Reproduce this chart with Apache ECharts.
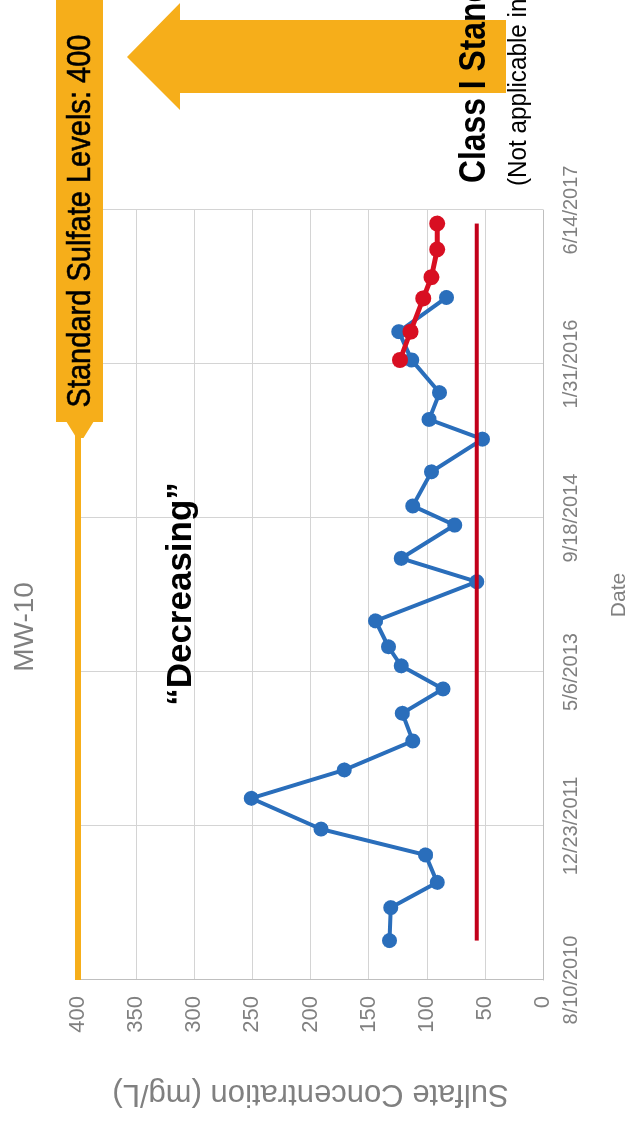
<!DOCTYPE html>
<html>
<head>
<meta charset="utf-8">
<script src="https://cdn.jsdelivr.net/npm/echarts@6/dist/echarts.min.js"></script>
<style>
html,body{margin:0;padding:0;width:641px;height:1123px;overflow:hidden;background:#ffffff;}
#chart{position:absolute;left:0;top:0;width:1123px;height:641px;transform-origin:0 0;transform:translate(0px,1123px) rotate(-90deg);background:#ffffff;}
</style>
</head>
<body>
<div id="chart"></div>
<script>
// ---- data ----
const chartTitle = 'MW-10';
const dateMin = '2010-08-10';
const dateMax = '2017-06-14';
const dateStepDays = 500;
const valueMin = 0;
const valueMax = 400;
const valueStep = 50;

const blueDates = ['2010-12-16','2011-04-02','2011-06-23','2011-09-20','2011-12-13','2012-03-22',
  '2012-06-22','2012-09-24','2012-12-23','2013-03-12','2013-05-26','2013-07-27','2013-10-19',
  '2014-02-23','2014-05-10','2014-08-26','2014-10-27','2015-02-15','2015-06-01','2015-08-04',
  '2015-10-30','2016-02-13','2016-05-15','2016-09-03'];
const blueValues = [132,131,91,101,191,251,171,112,121,86,122,133,144,57,122,76,112,96,52,98,89,113,124,83];

const redDates = ['2016-02-13','2016-05-15','2016-08-31','2016-11-08','2017-02-06','2017-05-01'];
const redValues = [123,114,103,96,91,91];

const baselineDates = ['2010-12-16','2017-05-01'];
const baselineValues = [57,57];

const standardLevel = 400;
const standardLabel = 'Standard Sulfate Levels: 400';
const classLabel = 'Class I Standard';
const classNote = '(Not applicable in';
const trendLabel = '\u201CDecreasing\u201D';
const xAxisName = 'Date';
const yAxisName = 'Sulfate Concentration (mg/L)';

// ---- helpers ----
const DAY = 86400000;
const base = Date.parse(dateMin);
const toDays = s => (Date.parse(s) - base) / DAY;
const fmtDate = v => {
  const d = new Date(base + v * DAY);
  return (d.getUTCMonth() + 1) + '/' + d.getUTCDate() + '/' + d.getUTCFullYear();
};
const pairs = (ds, vs) => ds.map((d, i) => [toDays(d), vs[i]]);

const ORANGE = '#F6AE1A';
const BLUE = '#2A6EBB';
const RED = '#D80F22';
const RED_LINE = '#C2001A';
const GRAY = '#808080';
const FONT = '"Liberation Sans", Arial, sans-serif';

const chart = echarts.init(document.getElementById('chart'), null, {renderer: 'canvas'});

chart.setOption({
  animation: false,
  backgroundColor: '#ffffff',
  grid: {left: 143, right: 210, top: 78, bottom: 98, containLabel: false, outerBoundsMode: 'none'},
  xAxis: {
    type: 'value',
    min: 0,
    max: toDays(dateMax),
    interval: dateStepDays,
    name: xAxisName,
    nameLocation: 'middle',
    nameGap: 66,
    nameTextStyle: {fontSize: 21, color: GRAY, fontFamily: FONT},
    axisLine: {show: true, onZero: false, lineStyle: {color: '#BFBFBF', width: 1}},
    axisTick: {show: false},
    axisLabel: {formatter: fmtDate, fontSize: 20, color: GRAY, fontFamily: FONT, margin: 18,
                showMinLabel: true, showMaxLabel: true, hideOverlap: false},
    splitLine: {show: true, lineStyle: {color: '#D4D4D4', width: 1}}
  },
  yAxis: {
    type: 'value',
    min: valueMin,
    max: valueMax,
    interval: valueStep,
    name: yAxisName,
    nameLocation: 'middle',
    nameGap: 98,
    nameTextStyle: {fontSize: 31, color: GRAY, fontFamily: FONT},
    axisLine: {show: true, lineStyle: {color: '#BFBFBF', width: 1}},
    axisTick: {show: false},
    axisLabel: {fontSize: 22, color: GRAY, fontFamily: FONT, margin: 16},
    splitLine: {show: true, lineStyle: {color: '#D4D4D4', width: 1}}
  },
  series: [
    {
      name: 'MW-10',
      type: 'line',
      data: pairs(blueDates, blueValues),
      symbol: 'circle',
      symbolSize: 15,
      lineStyle: {color: BLUE, width: 4},
      itemStyle: {color: BLUE},
      z: 2,
      markLine: {
        silent: true,
        symbol: ['none', 'none'],
        label: {show: false},
        lineStyle: {color: ORANGE, width: 6, type: 'solid'},
        data: [{yAxis: standardLevel}]
      }
    },
    {
      name: 'baseline',
      type: 'line',
      data: pairs(baselineDates, baselineValues),
      symbol: 'none',
      lineStyle: {color: RED_LINE, width: 4},
      z: 3
    },
    {
      name: 'recent',
      type: 'line',
      data: pairs(redDates, redValues),
      symbol: 'circle',
      symbolSize: 16,
      lineStyle: {color: RED, width: 5},
      itemStyle: {color: RED},
      z: 4
    }
  ],
  graphic: [
    {type: 'polygon', z: 100, shape: {points: [[1066,127],[1120,180],[1103,180],[1103,506],[1030,506],[1030,180],[1013,180]]}, style: {fill: ORANGE}},
    {type: 'rect', z: 100, shape: {x: 701, y: 56, width: 422, height: 47}, style: {fill: ORANGE}},
    {type: 'polygon', z: 100, shape: {points: [[702,66],[702,94],[685,83.5],[685,76.5]]}, style: {fill: ORANGE}},
    {type: 'text', z: 101, x: 902, y: 81, scaleX: 0.88,
     style: {text: standardLabel, font: '33px ' + FONT, fill: '#000000', align: 'center', verticalAlign: 'middle',
             stroke: '#000000', lineWidth: 0.6}},
    {type: 'text', z: 101, x: 940, y: 475, scaleX: 0.86,
     style: {text: classLabel, font: 'bold 37px ' + FONT, fill: '#000000', align: 'left', verticalAlign: 'middle'}},
    {type: 'text', z: 101, x: 937, y: 519, scaleX: 0.97,
     style: {text: classNote, font: '25px ' + FONT, fill: '#000000', align: 'left', verticalAlign: 'middle'}},
    {type: 'text', z: 101, x: 496, y: 25,
     style: {text: chartTitle, font: '28px ' + FONT, fill: GRAY, align: 'center', verticalAlign: 'middle'}},
    {type: 'text', z: 101, x: 529, y: 181,
     style: {text: trendLabel, font: 'bold 35px ' + FONT, fill: '#000000', align: 'center', verticalAlign: 'middle'}}
  ]
});
</script>
</body>
</html>
